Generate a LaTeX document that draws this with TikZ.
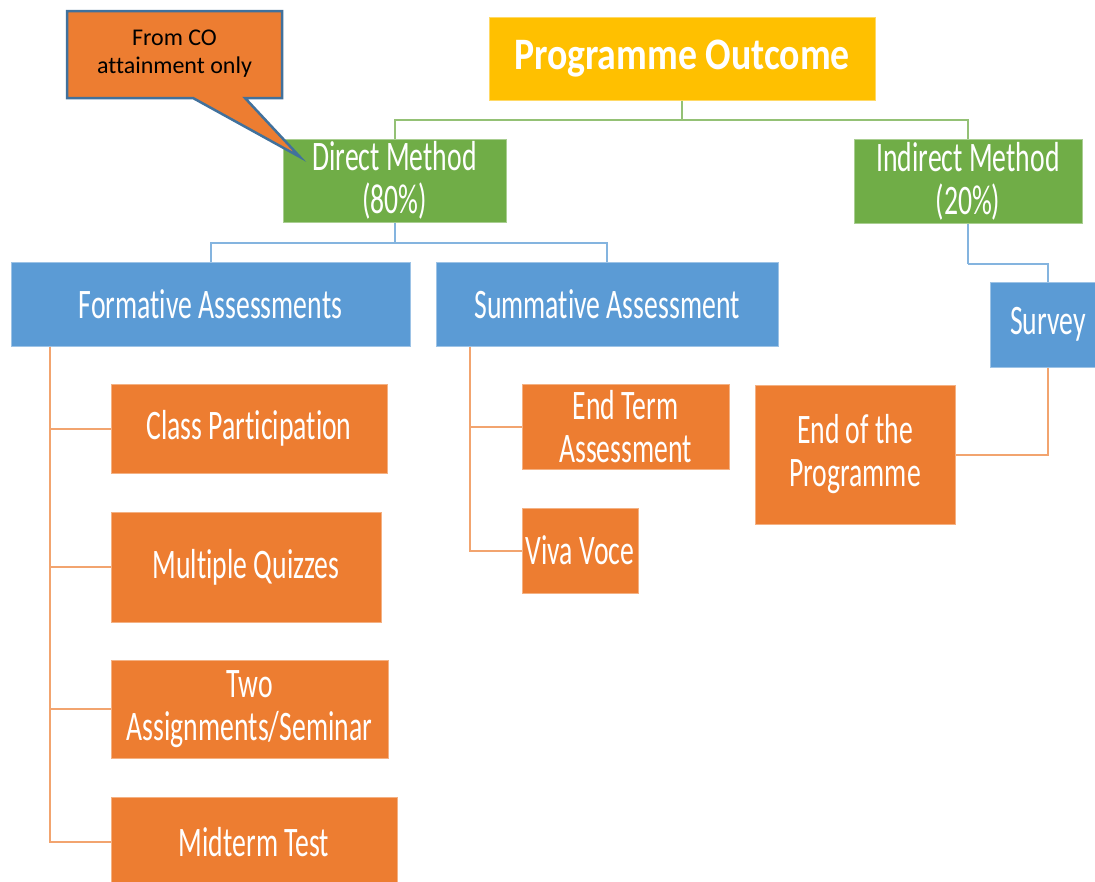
\documentclass[tikz,border=0pt]{standalone}
\usepackage{fontspec}
\setmainfont{Carlito}[FakeStretch=0.66, Ligatures=NoCommon]
\newfontfamily\pofont{Carlito}[FakeStretch=0.84, Ligatures=NoCommon]
\newfontfamily\callfont{Carlito}[Ligatures=NoCommon]
\usetikzlibrary{calc}
\definecolor{cgold}{HTML}{FFC000}
\definecolor{cgreen}{HTML}{70AD47}
\definecolor{cblue}{HTML}{5B9BD5}
\definecolor{corange}{HTML}{ED7D31}
\definecolor{cborder}{HTML}{41719C}
\tikzset{
  box/.style={rectangle, inner sep=0pt, align=center, text=white, line width=1pt,
    font=\fontsize{42}{43}\selectfont},
  goldbox/.style={box, fill=cgold, draw=cgold!60!white},
  greenbox/.style={box, fill=cgreen, draw=cgreen!60!white},
  bluebox/.style={box, fill=cblue, draw=cblue!60!white},
  orangebox/.style={box, fill=corange, draw=corange!60!white},
  gline/.style={draw=cgreen!75!white, line width=2pt},
  bline/.style={draw=cblue!75!white, line width=2pt},
  oline/.style={draw=corange!70!white, line width=2pt},
}
\begin{document}
\begin{tikzpicture}[x=1pt,y=-1pt]
\useasboundingbox (0,0) rectangle (1095,881);
\fill[white] (0,0) rectangle (1095,881);
\clip (0,0) rectangle (1095,881);

% nodes
\node[goldbox, minimum width=386pt, minimum height=83pt,
  font=\pofont\bfseries\fontsize{45}{46}\selectfont] (po) at (682,58.5) {Programme Outcome};
\node[greenbox, minimum width=223pt, minimum height=83pt] (dm) at (394.5,180.5) {Direct Method\\(80\%)};
\node[greenbox, minimum width=228pt, minimum height=84pt] (im) at (968,181) {Indirect Method\\(20\%)};
\node[bluebox, minimum width=399pt, minimum height=84pt] (fa) at (210.5,304) {Formative Assessments};
\node[bluebox, minimum width=342pt, minimum height=84pt] (sa) at (607,304) {Summative Assessment};
\node[bluebox, minimum width=116pt, minimum height=85pt] (sv) at (1048,324.5) {Survey};
\node[orangebox, minimum width=276pt, minimum height=89pt] (cp) at (249,428.5) {Class Participation};
\node[orangebox, minimum width=270pt, minimum height=110pt] (mq) at (246,567) {Multiple Quizzes};
\node[orangebox, minimum width=277pt, minimum height=98pt] (ta) at (249.5,709) {Two\\Assignments/Seminar};
\node[orangebox, minimum width=286pt, minimum height=90pt] (mt) at (254,842) {Midterm Test};
\node[orangebox, minimum width=207pt, minimum height=85pt] (et) at (625.5,426.5) {End Term\\Assessment};
\node[orangebox, minimum width=116pt, minimum height=85pt] (vv) at (580,550.5) {Viva Voce};
\node[orangebox, minimum width=200pt, minimum height=139pt] (ep) at (855,454.5) {End of the\\Programme};

% connectors
\draw[gline] (po.south) -- ++(0,19) coordinate (pobus);
\draw[gline] (pobus) -| (dm.north);
\draw[gline] (pobus) -| (im.north);
\draw[bline] (dm.south) -- ++(0,20) coordinate (dmbus);
\draw[bline] (dmbus) -| (fa.north);
\draw[bline] (dmbus) -| (sa.north);
\draw[bline] (im.south) -- ++(0,40) coordinate (imbus);
\draw[bline] (imbus) -| (sv.north);
\draw[oline] (sv.south) |- (ep.east);
\coordinate (fat) at ([xshift=39pt]fa.south west);
\draw[oline] (fat) |- (cp.west);
\draw[oline] (fat) |- (mq.west);
\draw[oline] (fat) |- (ta.west);
\draw[oline] (fat) |- (mt.west);
\coordinate (sat) at ([xshift=34pt]sa.south west);
\draw[oline] (sat) |- (et.west);
\draw[oline] (sat) |- (vv.west);

% callout
\draw[fill=corange, draw=cborder, line width=2.5pt, line join=miter]
  (67,11) -- (282,11) -- (282,98) -- (245,98) -- (300,157) -- (193,98) -- (67,98) -- cycle;
\node[font=\callfont\fontsize{24}{28}\selectfont, align=center, text=black, inner sep=0pt] (co) at (174.5,54) {From CO\\attainment only};
\end{tikzpicture}
\end{document}
